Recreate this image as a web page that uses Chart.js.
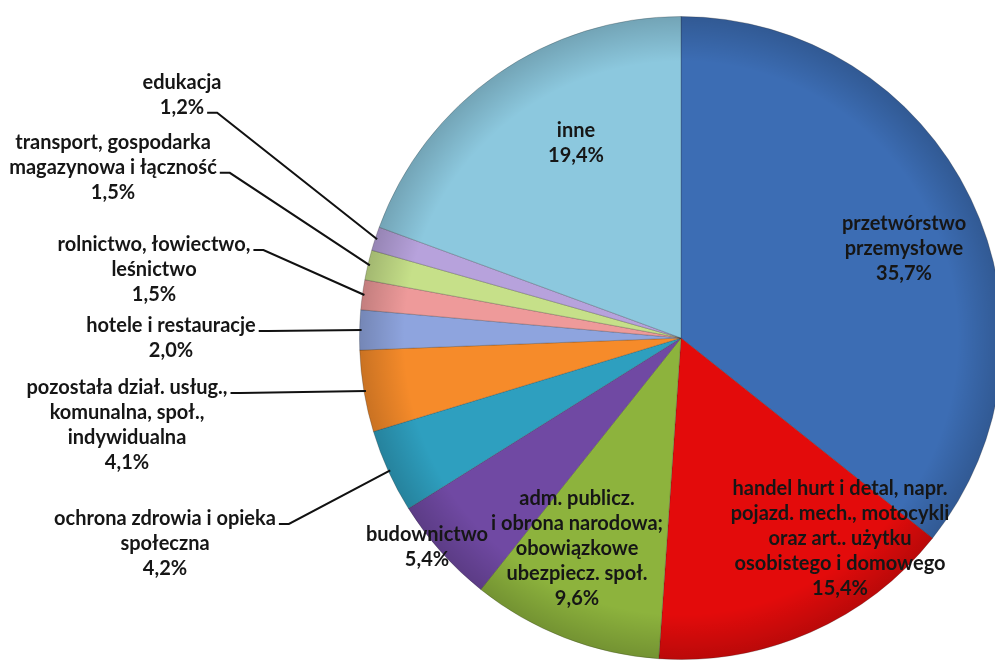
<!DOCTYPE html>
<html><head><meta charset="utf-8">
<script src="https://cdn.jsdelivr.net/npm/chart.js@4/dist/chart.umd.min.js"></script>
<style>
html,body{margin:0;padding:0;background:#fff;overflow:hidden;width:995px;height:665px}
#wrap{position:absolute;left:0;top:0;width:1012px;height:665px}
</style></head><body>
<div id="wrap"><canvas id="c"></canvas></div>
<script>
const categories = [
  'przetwórstwo przemysłowe',
  'handel hurt i detal, napr. pojazd. mech., motocykli oraz art.. użytku osobistego i domowego',
  'adm. publicz. i obrona narodowa; obowiązkowe ubezpiecz. społ.',
  'budownictwo',
  'ochrona zdrowia i opieka społeczna',
  'pozostała dział. usług., komunalna, społ., indywidualna',
  'hotele i restauracje',
  'rolnictwo, łowiectwo, leśnictwo',
  'transport, gospodarka magazynowa i łączność',
  'edukacja',
  'inne'
];
const shares = [35.7, 15.4, 9.6, 5.4, 4.2, 4.1, 2.0, 1.5, 1.5, 1.2, 19.4];
const labelLines = [
  ['przetwórstwo', 'przemysłowe'],
  ['handel hurt i detal, napr.', 'pojazd. mech., motocykli', 'oraz art.. użytku', 'osobistego i domowego'],
  ['adm. publicz.', 'i obrona narodowa;', 'obowiązkowe', 'ubezpiecz. społ.'],
  ['budownictwo'],
  ['ochrona zdrowia i opieka', 'społeczna'],
  ['pozostała dział. usług.,', 'komunalna, społ.,', 'indywidualna'],
  ['hotele i restauracje'],
  ['rolnictwo, łowiectwo,', 'leśnictwo'],
  ['transport, gospodarka', 'magazynowa i łączność'],
  ['edukacja'],
  ['inne']
];
const sliceColors = ['#3C6DB4','#E30B0B','#8DB33D','#7049A3','#2E9FBF','#F68B2A','#8EA4DE','#EE9A9A','#C6E089','#B7A2DC','#8CC8DE'];

// label placement (text layout only)
const labelPlacement = [
  {x: 904, y: 224},
  {x: 840, y: 489},
  {x: 577, y: 499},
  {x: 427, y: 535},
  {x: 165, y: 519, lead: 0},
  {x: 127, y: 388, lead: 0},
  {x: 171, y: 326, lead: 0},
  {x: 154, y: 245, lead: 0},
  {x: 113, y: 143, lead: 1},
  {x: 182, y: 83, lead: 1},
  {x: 576, y: 131}
];
const LINE_H = 24.8;
const FONT = 'bold 20px Lato';

const fmtPct = v => v.toFixed(1).replace('.', ',') + '%';

const shadePlugin = {
  id: 'shade',
  afterDatasetsDraw(chart) {
    const arc = chart.getDatasetMeta(0).data[0];
    if (!arc) return;
    const {x, y, outerRadius: r} = arc.getProps(['x','y','outerRadius'], true);
    const ctx = chart.ctx;
    ctx.save();
    const g = ctx.createRadialGradient(x, y, r * 0.86, x, y, r);
    g.addColorStop(0, 'rgba(0,0,0,0)');
    g.addColorStop(1, 'rgba(0,0,0,0.18)');
    ctx.beginPath();
    ctx.arc(x, y, r, 0, Math.PI * 2);
    ctx.fillStyle = g;
    ctx.fill();
    ctx.restore();
  }
};

const labelPlugin = {
  id: 'sliceLabels',
  afterDraw(chart) {
    const ctx = chart.ctx;
    const meta = chart.getDatasetMeta(0);
    const vals = chart.data.datasets[0].data;
    ctx.save();
    ctx.font = FONT;
    ctx.textAlign = 'center';
    ctx.textBaseline = 'middle';
    meta.data.forEach((el, i) => {
      const p = labelPlacement[i];
      const lines = labelLines[i].concat([fmtPct(vals[i])]);
      ctx.fillStyle = '#161616';
      lines.forEach((t, k) => ctx.fillText(t, p.x, p.y + k * LINE_H));
      if (p.lead !== undefined) {
        const {x, y, startAngle, endAngle, outerRadius} = el.getProps(['x','y','startAngle','endAngle','outerRadius'], true);
        const mid = (startAngle + endAngle) / 2;
        const ex = x + Math.cos(mid) * (outerRadius - 2);
        const ey = y + Math.sin(mid) * (outerRadius - 2);
        const w = ctx.measureText(lines[p.lead]).width;
        const sx = p.x + w / 2 + 3;
        const sy = p.y + p.lead * LINE_H + 5;
        ctx.beginPath();
        ctx.moveTo(sx, sy);
        ctx.lineTo(sx + 10, sy);
        ctx.lineTo(ex, ey);
        ctx.strokeStyle = '#111';
        ctx.lineWidth = 2;
        ctx.stroke();
      }
    });
    ctx.restore();
  }
};

new Chart(document.getElementById('c'), {
  type: 'pie',
  data: {
    labels: categories,
    datasets: [{
      data: shares,
      backgroundColor: sliceColors,
      borderColor: 'rgba(40,40,40,0.25)',
      borderWidth: 1
    }]
  },
  options: {
    responsive: true,
    maintainAspectRatio: false,
    animation: false,
    layout: {padding: {left: 359, right: 9, top: 16, bottom: 5}},
    plugins: {legend: {display: false}, tooltip: {enabled: false}}
  },
  plugins: [shadePlugin, labelPlugin]
});
</script>
</body></html>
